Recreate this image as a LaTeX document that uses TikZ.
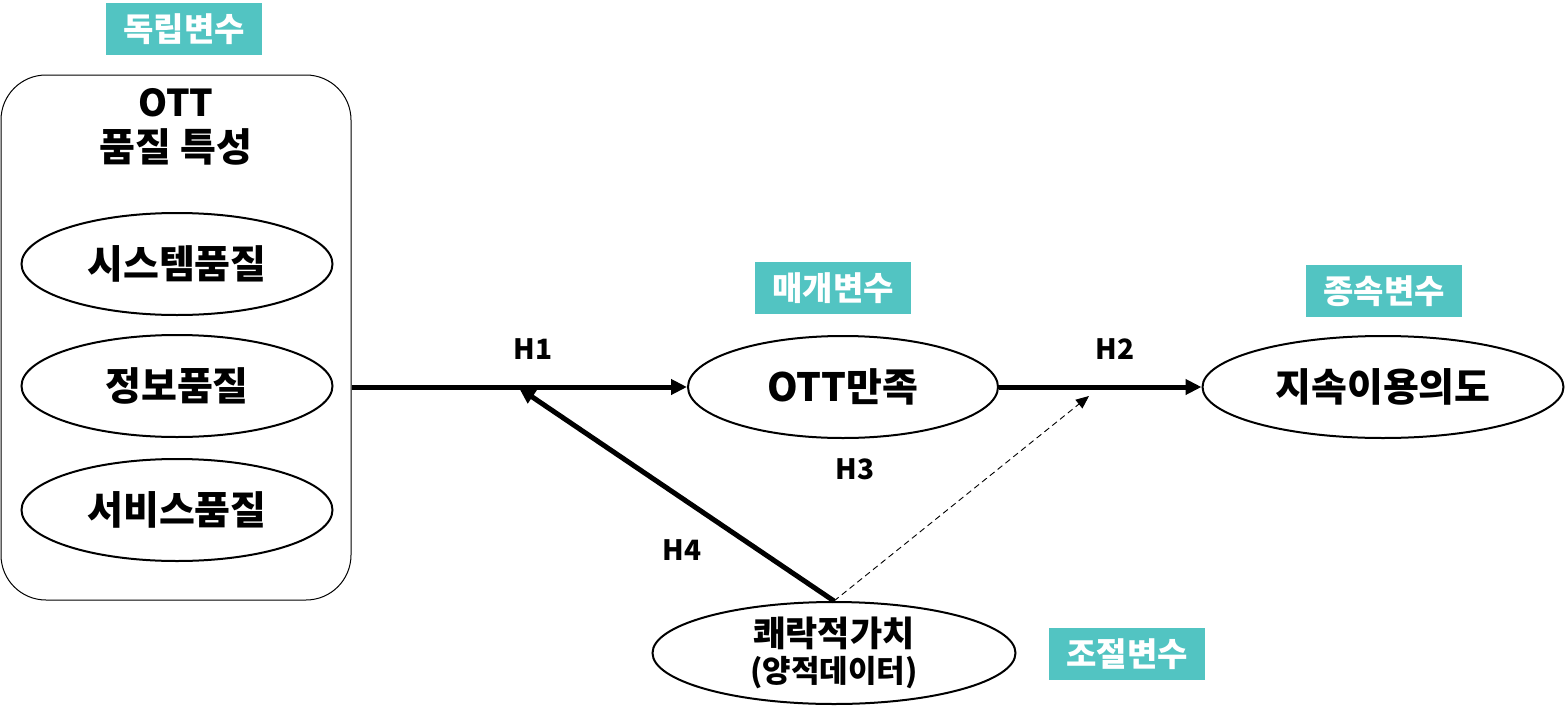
\documentclass[tikz,border=0pt]{standalone}
\usepackage{fontspec}
\setmainfont{Noto Sans CJK KR}
\usetikzlibrary{arrows.meta,shapes.geometric}
\definecolor{tealbox}{HTML}{52C4C2}
\begin{document}
\begin{tikzpicture}[x=1pt,y=-1pt,
  tag/.style={fill=tealbox,text=white,font=\fontsize{33}{36}\selectfont\bfseries,minimum width=156pt,minimum height=52pt,inner sep=0pt},
  oval/.style={draw,ellipse,line width=2pt,inner sep=0pt,font=\fontsize{39}{42}\selectfont\bfseries},
  hlab/.style={font=\fontsize{28}{32}\selectfont\bfseries,inner sep=0pt},
  bigarrow/.style={line width=5pt,-{Triangle[length=16pt,width=15pt]}}
]
\useasboundingbox (0,0) rectangle (1566,712);
\node[draw,rounded corners=45pt,line width=1pt,minimum width=350pt,minimum height=525pt,inner sep=0pt] (grp) at (176,337.5) {};
\node[hlab,font=\fontsize{37}{40}\selectfont\bfseries] (ott) at (176,103) {OTT};
\node[hlab,font=\fontsize{39}{42}\selectfont\bfseries] (pq) at (176,147) {품질 특성};
\node[oval,minimum width=311pt,minimum height=102pt] (sys) at (177,264) {시스템품질};
\node[oval,minimum width=311pt,minimum height=102pt] (info) at (177,386) {정보품질};
\node[oval,minimum width=311pt,minimum height=102pt] (svc) at (177,510) {서비스품질};
\node[tag] (t1) at (184,29) {독립변수};
\node[oval,minimum width=310pt,minimum height=102pt] (sat) at (843,387) {OTT만족};
\node[tag] (t2) at (833,288) {매개변수};
\node[oval,minimum width=361pt,minimum height=102pt] (cont) at (1383,387) {지속이용의도};
\node[tag] (t3) at (1384,291) {종속변수};
\node[oval,minimum width=363pt,minimum height=102pt,align=center] (hed) at (834,653) {{\fontsize{35}{38}\selectfont 쾌락적가치}\\[-6pt]{\fontsize{31}{34}\selectfont(양적데이터)}};
\node[tag] (t4) at (1127,654) {조절변수};
\coordinate (m1) at (519,388);
\coordinate (m2) at (1089,396);
\draw[bigarrow] (grp.east |- sat.west) -- (sat.west);
\draw[bigarrow] (sat.east) -- (cont.west);
\draw[bigarrow] (hed.north) -- (m1);
\draw[dash pattern=on 6pt off 4pt,line width=0.9pt,-{Triangle[length=13pt,width=11pt]}] (hed.north) -- (m2);
\node[hlab] (h1) at (533,349) {H1};
\node[hlab] (h2) at (1115,349) {H2};
\node[hlab] (h3) at (855,469) {H3};
\node[hlab] (h4) at (682,550) {H4};
\end{tikzpicture}
\end{document}
